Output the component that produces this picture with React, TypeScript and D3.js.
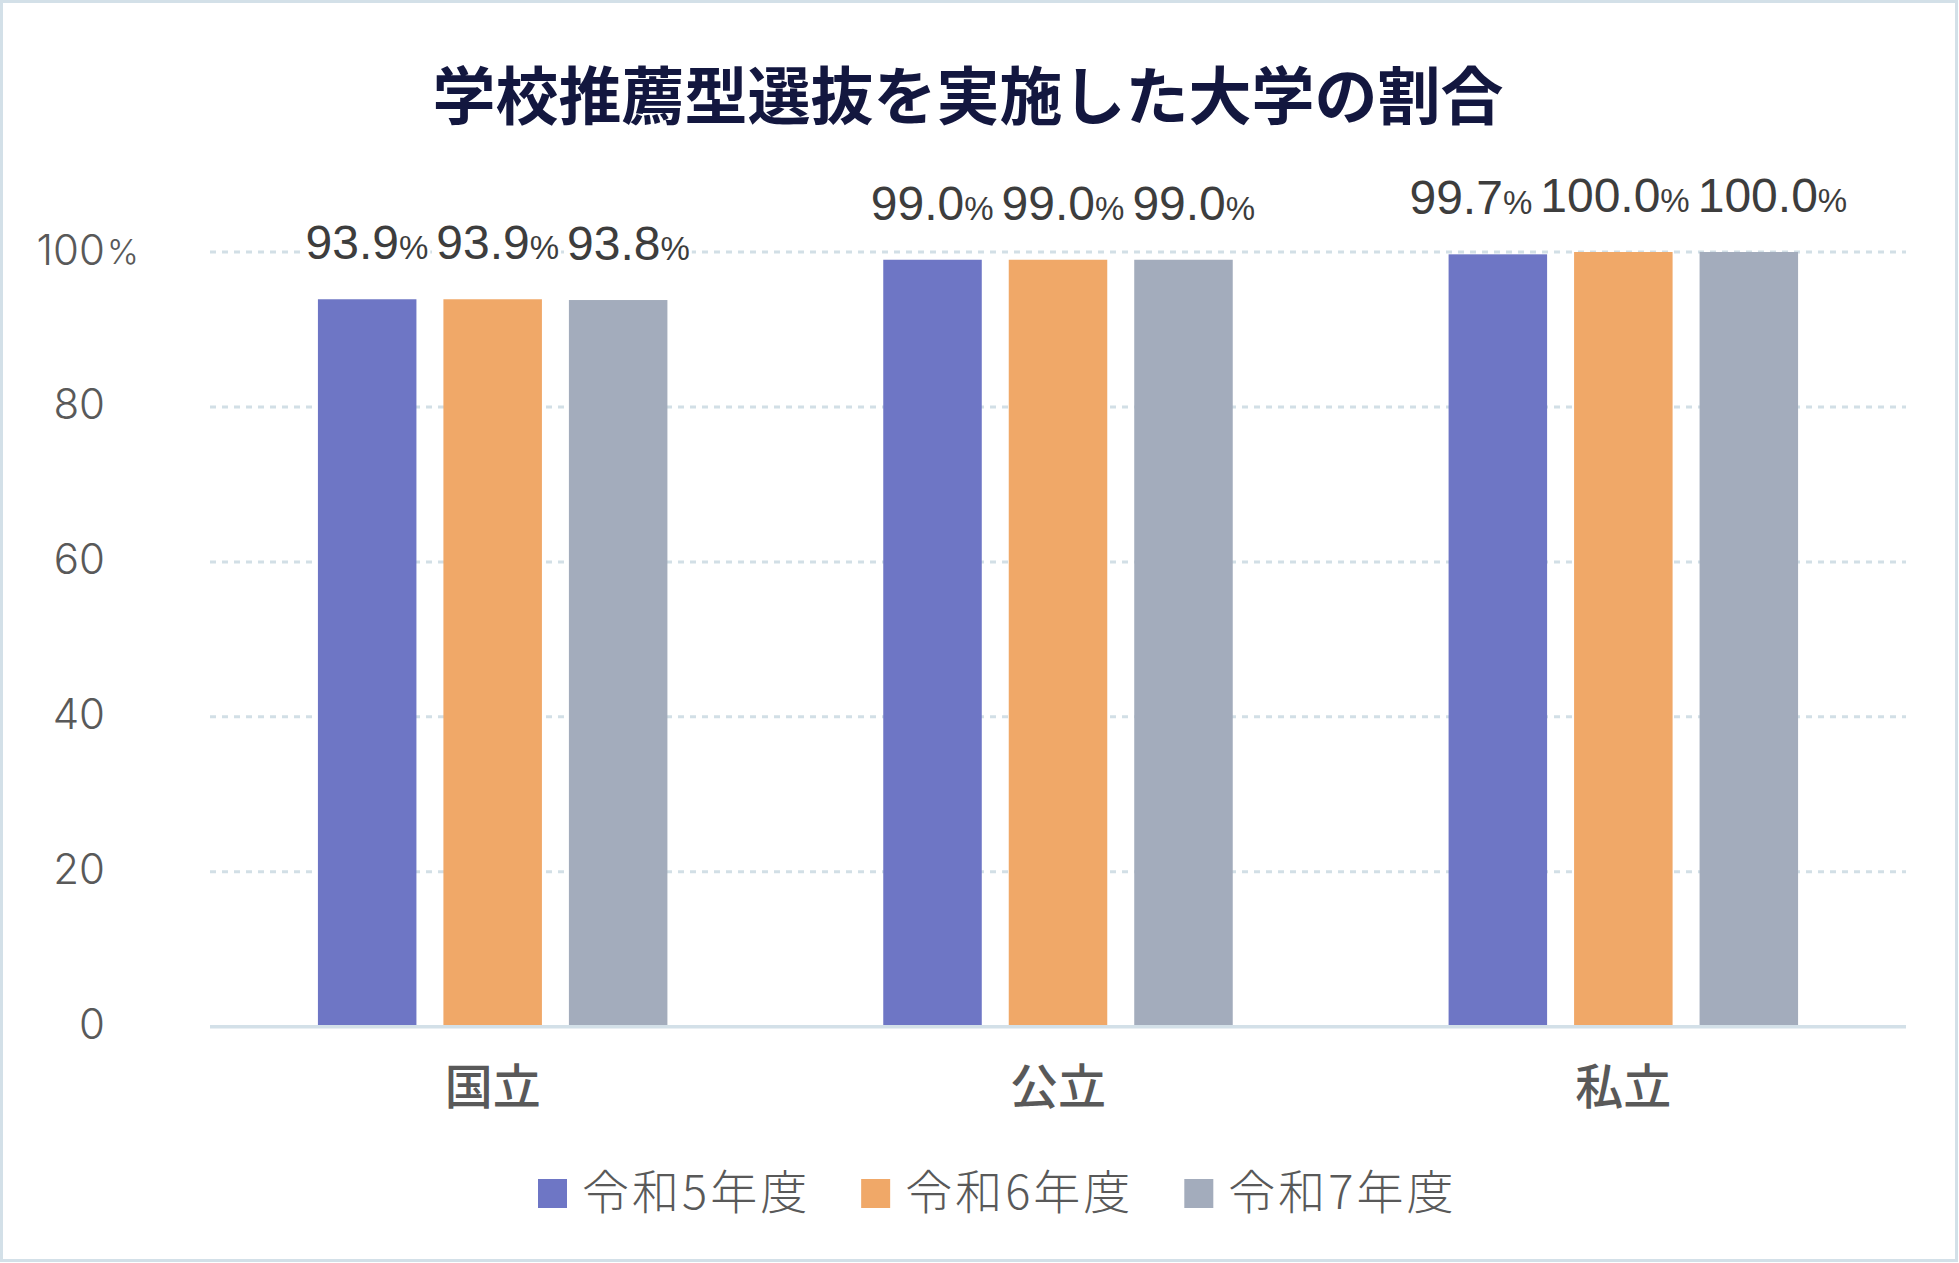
import React, { useEffect, useRef } from 'react';
import * as d3 from 'd3';

const title = '学校推薦型選抜を実施した大学の割合';
const categories = ['国立', '公立', '私立'];
const seriesNames = ['令和5年度', '令和6年度', '令和7年度'];
const seriesValues = [
  [93.9, 99.0, 99.7],
  [93.9, 99.0, 100.0],
  [93.8, 99.0, 100.0],
];
const yTicks = [0, 20, 40, 60, 80, 100];
const colors = ['#6e76c5', '#f0a868', '#a3acbc'];

const W = 1959;
const H = 1263;
const NUM_FONT = '"Liberation Sans", Arial, sans-serif';
const THIN_FONT = 'Inter, Lato, "Noto Sans", sans-serif';
const CJK = '"Noto Sans CJK JP", "Noto Sans CJK SC", sans-serif';

export default function App() {
  const ref = useRef<SVGSVGElement | null>(null);

  useEffect(() => {
    const svg = d3.select(ref.current);
    svg.selectAll('*').remove();

    const left = 210, right = 1906, top = 252, bottom = 1026.7;
    const x0 = d3.scaleBand<string>().domain(categories).range([left, right]).paddingInner(0).paddingOuter(0);
    const x1 = d3.scaleBand<string>().domain(seriesNames).range([0, x0.bandwidth()]).paddingInner(0.215).paddingOuter(0.86);
    const y = d3.scaleLinear().domain([0, 100]).range([bottom, top]);

    svg.append('rect').attr('x', 0).attr('y', 0).attr('width', W).attr('height', H).attr('fill', '#ffffff');
    svg.append('rect').attr('x', 1.5).attr('y', 1.5).attr('width', W - 4).attr('height', H - 4)
      .attr('fill', 'none').attr('stroke', '#d3e0e8').attr('stroke-width', 3);

    // title
    svg.append('text').attr('x', 968).attr('y', 91).attr('text-anchor', 'middle').attr('dominant-baseline', 'central')
      .attr('font-family', CJK).attr('font-weight', 700).attr('font-size', 63).attr('fill', '#13173f').text(title);

    // gridlines
    yTicks.filter(t => t > 0).forEach(t => {
      svg.append('line').attr('x1', left).attr('x2', right).attr('y1', y(t)).attr('y2', y(t))
        .attr('stroke', '#d2dfe6').attr('stroke-width', 3).attr('stroke-dasharray', '6 6');
    });

    // y tick labels
    yTicks.forEach(t => {
      svg.append('text').attr('x', 105).attr('y', y(t) - 3).attr('dominant-baseline', 'central')
        .attr('text-anchor', 'end').attr('font-family', THIN_FONT).attr('font-weight', 300).attr('font-size', 42)
        .attr('fill', '#595959').text(String(t));
      if (t === 100) {
        svg.append('text').attr('x', 107).attr('y', y(t) - 1).attr('dominant-baseline', 'central')
          .attr('font-family', THIN_FONT).attr('font-weight', 300).attr('font-size', 34).attr('fill', '#595959').text('%');
      }
    });

    // bars
    seriesNames.forEach((s, si) => {
      categories.forEach((c, ci) => {
        const v = seriesValues[si][ci];
        svg.append('rect').attr('x', (x0(c) || 0) + (x1(s) || 0)).attr('y', y(v))
          .attr('width', x1.bandwidth()).attr('height', y(0) - y(v)).attr('fill', colors[si]);
      });
    });

    // baseline
    svg.append('line').attr('x1', left).attr('x2', right).attr('y1', bottom).attr('y2', bottom)
      .attr('stroke', '#d3e0e8').attr('stroke-width', 3.5);

    // data labels
    categories.forEach((c, ci) => {
      const groupCenter = (x0(c) || 0) + x0.bandwidth() / 2;
      const items = seriesNames.map((s, si) => {
        const v = seriesValues[si][ci];
        const bg = svg.append('rect').attr('fill', '#ffffff');
        const t = svg.append('text').attr('y', y(v) - 40).attr('text-anchor', 'middle')
          .attr('font-family', NUM_FONT).attr('font-size', 48).attr('fill', '#3d3d3d');
        t.append('tspan').text(v.toFixed(1));
        t.append('tspan').attr('font-size', 33).text('%');
        const w = (t.node() as SVGTextElement).getComputedTextLength();
        return { t, bg, w, cx: groupCenter + (si - 1) * x1.step(), v };
      });
      let overlap = false;
      for (let i = 1; i < items.length; i++) {
        if (items[i].cx - items[i].w / 2 - (items[i - 1].cx + items[i - 1].w / 2) < 8) overlap = true;
      }
      if (overlap) {
        const gap = 8;
        const total = d3.sum(items, d => d.w) + gap * (items.length - 1);
        let xs = groupCenter + 5 - total / 2;
        items.forEach(d => { d.cx = xs + d.w / 2; xs += d.w + gap; });
      }
      items.forEach(d => {
        d.t.attr('x', d.cx);
        d.bg.attr('x', d.cx - d.w / 2 - 2).attr('y', y(d.v) - 40 - 37).attr('width', d.w + 4).attr('height', 43);
      });
    });

    // category labels
    categories.forEach(c => {
      svg.append('text').attr('x', (x0(c) || 0) + x0.bandwidth() / 2).attr('y', 1083).attr('dominant-baseline', 'central')
        .attr('text-anchor', 'middle').attr('font-family', CJK).attr('font-weight', 500).attr('font-size', 48)
        .attr('fill', '#595959').text(c);
    });

    // legend
    let lx = 538;
    seriesNames.forEach((s, si) => {
      svg.append('rect').attr('x', lx).attr('y', 1179).attr('width', 29).attr('height', 29).attr('fill', colors[si]);
      const t = svg.append('text').attr('x', lx + 44).attr('y', 1188).attr('dominant-baseline', 'central')
        .attr('font-family', CJK).attr('font-weight', 300).attr('font-size', 47).attr('letter-spacing', 3)
        .attr('fill', '#595959').text(s);
      const w = (t.node() as SVGTextElement).getComputedTextLength();
      lx += 44 + w + 51;
    });
  }, []);

  return (
    <div style={{ position: 'absolute', left: 0, top: 0 }}>
      <svg ref={ref} width={W} height={H} viewBox={`0 0 ${W} ${H}`} style={{ display: 'block' }} />
    </div>
  );
}
